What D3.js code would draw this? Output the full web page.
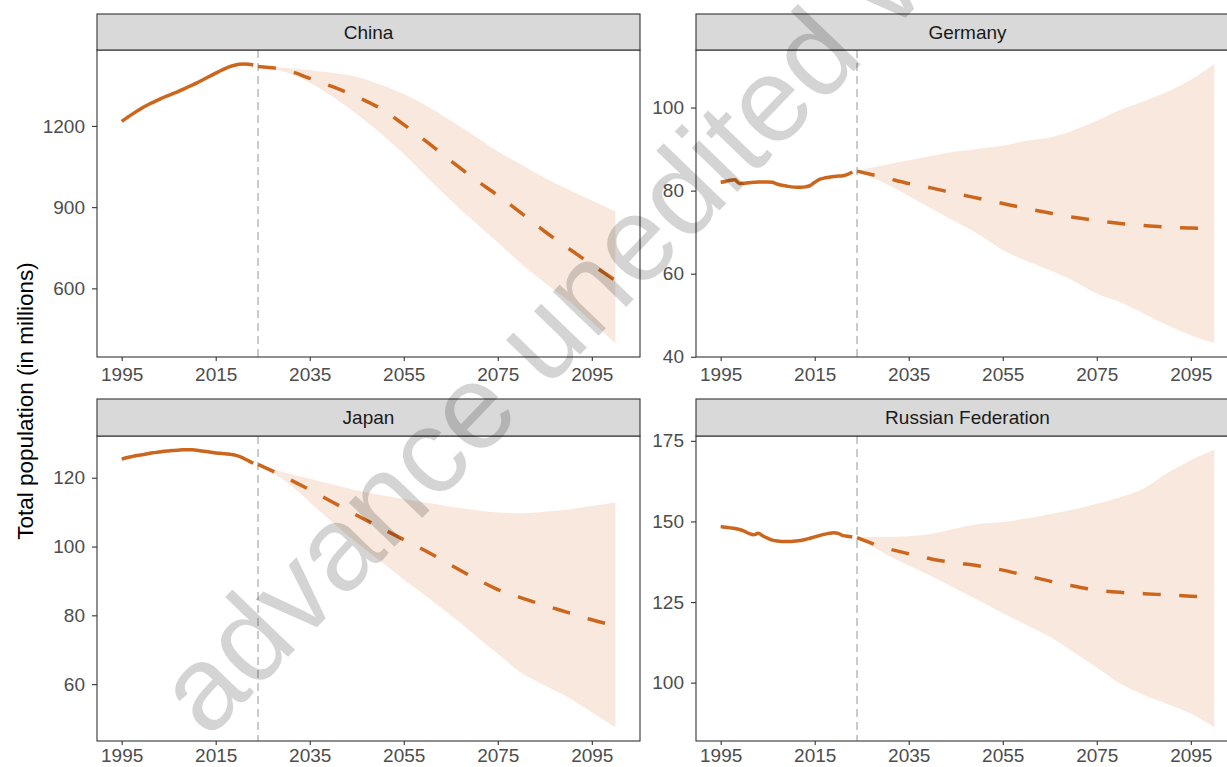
<!DOCTYPE html>
<html><head><meta charset="utf-8">
<script src="https://cdn.jsdelivr.net/npm/d3@7/dist/d3.min.js"></script>
<style>
body{margin:0;background:#fff}
svg{display:block;font-family:"Liberation Sans",Arial,sans-serif}
</style>
</head><body>
<svg id="chart" width="1227" height="767"></svg>
<script>
// ---------------- data ----------------
const countries = ["China", "Germany", "Japan", "Russian Federation"];
const estYears = [1995,1996,1997,1998,1999,2000,2001,2002,2003,2004,2005,2006,2007,2008,2009,
                  2010,2011,2012,2013,2014,2015,2016,2017,2018,2019,2020,2021,2022,2023];
const projYears = [2024,2030,2035,2040,2045,2050,2055,2060,2065,2070,2075,2080,2085,2090,2095,2100];
const projectionStart = 2024;
const xTicks = [1995, 2015, 2035, 2055, 2075, 2095];

const chinaEst = [1217,1229,1241,1252,1263,1273,1282,1290,1298,1306,1313,1320,1327,1335,1343,
                  1351,1359,1368,1377,1386,1395,1404,1412,1419,1424,1428,1429,1428,1425];
const chinaMed  = [1420,1406,1376,1344,1308,1265,1205,1140,1071,1005,943,878,810,748,688,630];
const chinaHigh = [1422,1414,1406,1396,1382,1353,1318,1273,1220,1164,1106,1057,1008,965,925,884];
const chinaLow  = [1420,1398,1360,1307,1244,1174,1096,1010,925,846,769,691,620,555,477,398];
const chinaTicks = [600, 900, 1200];

const germanyEst = [82.0,82.2,82.5,82.6,81.7,81.8,81.9,82.0,82.1,82.1,82.1,82.0,81.6,81.3,81.1,
                    80.9,80.8,80.8,80.9,81.2,82.0,82.7,83.0,83.2,83.4,83.5,83.6,83.9,84.5];
const germanyMed  = [84.7,83.1,81.7,80.6,79.3,78.1,76.9,75.7,74.6,73.6,72.8,72.1,71.6,71.2,71.0,70.9];
const germanyHigh = [84.8,86.2,87.3,88.4,89.4,90.1,90.8,92.0,92.8,94.5,96.8,99.4,101.5,103.8,106.7,110.5];
const germanyLow  = [84.6,81.7,78.7,75.6,72.5,69.4,65.7,63.1,60.8,58.3,55.2,53.1,50.4,47.6,45.2,43.3];
const germanyTicks = [40, 60, 80, 100];

const japanEst = [125.4,125.8,126.1,126.4,126.6,126.8,127.1,127.3,127.5,127.7,127.8,127.9,128.0,128.1,128.1,
                  128.1,128.0,127.8,127.6,127.4,127.2,127.1,127.0,126.8,126.6,126.2,125.6,124.9,124.2];
const japanMed  = [123.9,120.0,116.5,112.8,109.1,105.5,102.0,98.5,94.6,90.9,87.5,85.1,82.9,80.8,78.7,77.0];
const japanHigh = [124.0,121.4,119.7,118.0,116.3,115.0,113.8,112.7,111.6,110.6,109.9,109.7,110.1,110.8,111.8,112.8];
const japanLow  = [123.8,118.8,112.9,106.9,101.1,95.8,90.4,85.3,80.0,74.4,68.8,63.3,59.6,56.1,51.8,47.5];
const japanTicks = [60, 80, 100, 120];

const russiaEst = [148.4,148.2,148.0,147.8,147.5,147.0,146.3,145.9,146.3,145.5,144.8,144.2,143.9,143.8,143.8,
                   143.8,143.9,144.1,144.4,144.8,145.2,145.6,146.0,146.3,146.5,146.3,145.6,145.4,145.2];
const russiaMed  = [145.0,141.8,140.0,138.3,137.2,136.2,134.9,133.2,131.5,130.0,128.7,128.0,127.6,127.2,126.8,126.5];
const russiaHigh = [145.2,145.2,145.4,146.2,147.8,149.2,149.8,150.9,152.2,153.7,155.5,157.5,160.2,165.0,169.0,172.2];
const russiaLow  = [144.9,140.0,136.3,132.9,129.1,125.4,121.6,117.9,114.2,109.5,104.7,99.7,96.2,93.4,90.4,86.2];
const russiaTicks = [100, 125, 150, 175];

const yTitle = "Total population (in millions)";
const watermark = "advance unedited version";

// ---------------- layout / style ----------------
const lineColor = "#CD661D";
const panels = [
  {name: countries[0], est: chinaEst,   med: chinaMed,   hi: chinaHigh,   lo: chinaLow,   ticks: chinaTicks,   col: 0, row: 0},
  {name: countries[1], est: germanyEst, med: germanyMed, hi: germanyHigh, lo: germanyLow, ticks: germanyTicks, col: 1, row: 0},
  {name: countries[2], est: japanEst,   med: japanMed,   hi: japanHigh,   lo: japanLow,   ticks: japanTicks,   col: 0, row: 1},
  {name: countries[3], est: russiaEst,  med: russiaMed,  hi: russiaHigh,  lo: russiaLow,  ticks: russiaTicks,  col: 1, row: 1}
];
const colX = [[97, 640], [696, 1239]];
const rowY = [{strip: 14, top: 50, bottom: 357, pad: 7}, {strip: 399, top: 436, bottom: 741, pad: 4}];

const svg = d3.select("#chart");

function expand(ext) {
  const d = (ext[1] - ext[0]) * 0.05;
  return [ext[0] - d, ext[1] + d];
}
const xDomain = expand(d3.extent(estYears.concat(projYears)));

panels.forEach(p => {
  const [x0, x1] = colX[p.col];
  const R = rowY[p.row];
  const x = d3.scaleLinear().domain(xDomain).range([x0, x1]);
  const all = p.est.concat(p.med, p.hi, p.lo);
  const y = d3.scaleLinear().domain(expand(d3.extent(all))).range([R.bottom, R.top]);
  const g = svg.append("g");

  // band
  const band = projYears.map((yr, i) => ({yr, lo: p.lo[i], hi: p.hi[i]}));
  g.append("path").datum(band)
    .attr("d", d3.area().x(d => x(d.yr)).y0(d => y(d.lo)).y1(d => y(d.hi)).curve(d3.curveMonotoneX))
    .attr("fill", lineColor).attr("fill-opacity", 0.15);

  // vertical projection-start line
  g.append("line")
    .attr("x1", x(projectionStart)).attr("x2", x(projectionStart))
    .attr("y1", R.top).attr("y2", R.bottom)
    .attr("stroke", "#BEBEBE").attr("stroke-width", 1.6).attr("stroke-dasharray", "8,5");

  // estimates
  g.append("path").datum(estYears.map((yr, i) => [yr, p.est[i]]))
    .attr("d", d3.line().x(d => x(d[0])).y(d => y(d[1])).curve(d3.curveMonotoneX))
    .attr("fill", "none").attr("stroke", lineColor).attr("stroke-width", 3.5);

  // projection median
  g.append("path").datum(projYears.map((yr, i) => [yr, p.med[i]]))
    .attr("d", d3.line().x(d => x(d[0])).y(d => y(d[1])).curve(d3.curveMonotoneX))
    .attr("fill", "none").attr("stroke", lineColor).attr("stroke-width", 3.5)
    .attr("stroke-dasharray", "18,18.5");

  // panel border
  g.append("rect").attr("x", x0).attr("y", R.top).attr("width", x1 - x0).attr("height", R.bottom - R.top)
    .attr("fill", "none").attr("stroke", "#333333").attr("stroke-width", 1.1);

  // strip
  g.append("rect").attr("x", x0).attr("y", R.strip).attr("width", x1 - x0).attr("height", R.top - R.strip)
    .attr("fill", "#D9D9D9").attr("stroke", "#333333").attr("stroke-width", 1.1);
  g.append("text").attr("x", (x0 + x1) / 2).attr("y", (R.strip + R.top) / 2)
    .attr("dy", "0.35em").attr("text-anchor", "middle")
    .attr("font-size", 19).attr("fill", "#1A1A1A").text(p.name);

  // axes
  const xa = g.append("g").attr("transform", `translate(0,${R.bottom})`)
    .call(d3.axisBottom(x).tickValues(xTicks).tickFormat(d3.format("d")).tickSize(4).tickPadding(R.pad));
  const ya = g.append("g").attr("transform", `translate(${x0},0)`)
    .call(d3.axisLeft(y).tickValues(p.ticks).tickFormat(d3.format("d")).tickSize(5).tickPadding(7));
  [xa, ya].forEach(a => {
    a.select(".domain").remove();
    a.selectAll(".tick line").attr("stroke", "#333333").attr("stroke-width", 1.1);
    a.selectAll(".tick text").attr("fill", "#4D4D4D").attr("font-size", 19)
      .attr("font-family", "'Liberation Sans', Arial, sans-serif");
  });
});

// y axis title
svg.append("text")
  .attr("transform", "translate(33,401) rotate(-90)")
  .attr("text-anchor", "middle").attr("font-size", 22.5).attr("fill", "#000")
  .text(yTitle);

// watermark
svg.append("text")
  .attr("transform", "translate(208,740) rotate(-46)")
  .attr("font-size", 120).attr("fill", "#000").attr("fill-opacity", 0.17)
  .text(watermark);
</script>
</body></html>
